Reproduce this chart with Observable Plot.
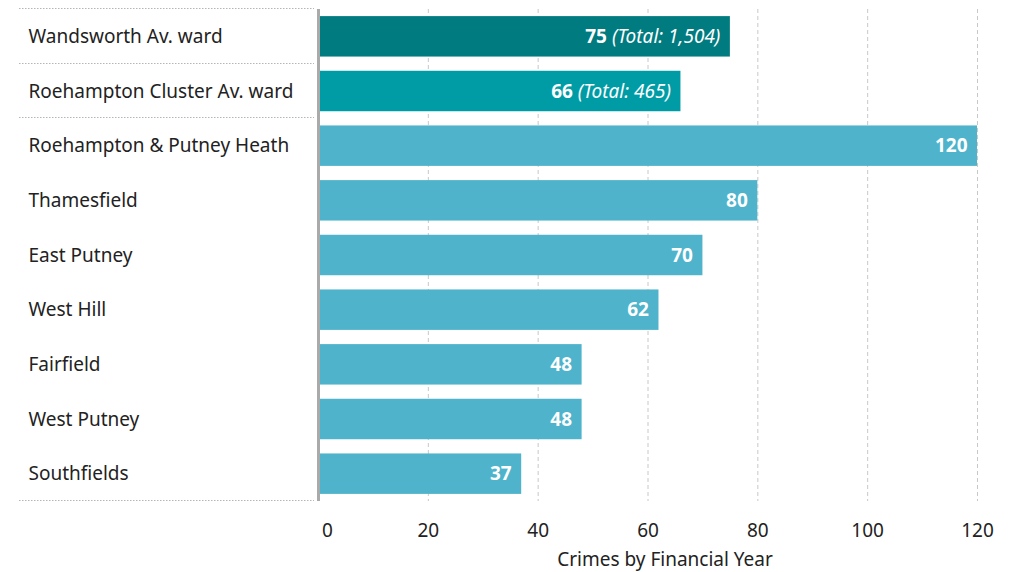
<!DOCTYPE html>
<html>
<head>
<meta charset="utf-8">
<script src="https://cdn.jsdelivr.net/npm/d3@7"></script>
<script src="https://cdn.jsdelivr.net/npm/@observablehq/plot@0.6"></script>
<style>
  html, body { margin: 0; padding: 0; background: #fff; }
  #chart { width: 1017px; height: 572px; }
</style>
</head>
<body>
<div id="chart"></div>
<script>
const names = ["Wandsworth Av. ward", "Roehampton Cluster Av. ward", "Roehampton & Putney Heath", "Thamesfield", "East Putney", "West Hill", "Fairfield", "West Putney", "Southfields"];
const values = [75, 66, 120, 80, 70, 62, 48, 48, 37];
const totals = [1504, 465, null, null, null, null, null, null, null];
const kinds = ["borough", "cluster", "ward", "ward", "ward", "ward", "ward", "ward", "ward"];
const kindDomain = ["borough", "cluster", "ward"];
const kindColors = ["#007b80", "#009ca6", "#4eb3cb"];
const xTicks = [0, 20, 40, 60, 80, 100, 120];
const xLabel = "Crimes by Financial Year";

const data = names.map((n, i) => ({name: n, value: values[i], total: totals[i], kind: kinds[i]}));
const font = "'Noto Sans', sans-serif";

const plot = Plot.plot({
  width: 1017,
  height: 572,
  marginLeft: 318,
  marginRight: 40,
  marginTop: 9,
  marginBottom: 71,
  style: {fontFamily: font, fontSize: "19px", color: "#222", background: "#fff"},
  x: {domain: [0, 120]},
  y: {domain: names, paddingInner: 0.26, paddingOuter: 0.13, round: false},
  color: {domain: kindDomain, range: kindColors},
  marks: [
    Plot.gridX(xTicks.filter(d => d > 0), {stroke: "#c8c8c8", strokeOpacity: 1, strokeDasharray: "4,3"}),
    Plot.barX(data, {x: "value", y: "name", fill: "kind"}),
    Plot.ruleX([0], {stroke: "#aaaaaa", strokeWidth: 3}),
    Plot.text(data, {
      x: "value", y: "name",
      text: d => d.total != null ? `${d.value} (Total: ${d3.format(",")(d.total)})` : `${d.value}`,
      textAnchor: "end", dx: -10, fill: "white", fontWeight: "bold", fontSize: 19,
      className: "vlabel"
    }),
    Plot.axisY({tickSize: 0, tickPadding: 290, textAnchor: "start", label: null, fontSize: 19, fill: "#222"}),
    Plot.axisX({ticks: xTicks.filter(d => d === 0), tickSize: 0, tickPadding: 22, dx: 9, label: null, fontSize: 19, fill: "#222"}),
    Plot.axisX({ticks: xTicks.filter(d => d > 0), tickSize: 0, tickPadding: 22, label: null, fontSize: 19, fill: "#222"}),
    Plot.text([xLabel], {frameAnchor: "bottom", dy: 64, dx: 17, fontSize: 19, fill: "#222"})
  ]
});

document.getElementById("chart").appendChild(plot);

// mixed bold/italic labels
const svg = d3.select(plot);
svg.selectAll(".vlabel text").each(function() {
  const t = d3.select(this);
  const s = t.text();
  const m = s.match(/^(\d+)( \(.*\))$/);
  if (m) {
    t.text(null);
    t.append("tspan").attr("font-weight", "bold").text(m[1]);
    t.append("tspan").attr("font-weight", "normal").attr("font-style", "italic").text(m[2]);
  }
});

// dotted separators in the label area, from the y scale
const y = plot.scale("y");
const r0 = Math.min(...y.range), r1 = Math.max(...y.range);
const step = (r1 - r0) / names.length;
const seps = [r0, r0 + step, r0 + 2 * step, r1];
svg.append("g").selectAll("line").data(seps).join("line")
  .attr("x1", 19).attr("x2", 314)
  .attr("y1", d => Math.round(d) - 0.5).attr("y2", d => Math.round(d) - 0.5)
  .attr("stroke", "#b5b5b5").attr("stroke-width", 1.2).attr("stroke-dasharray", "1.5,1.5");
</script>
</body>
</html>
